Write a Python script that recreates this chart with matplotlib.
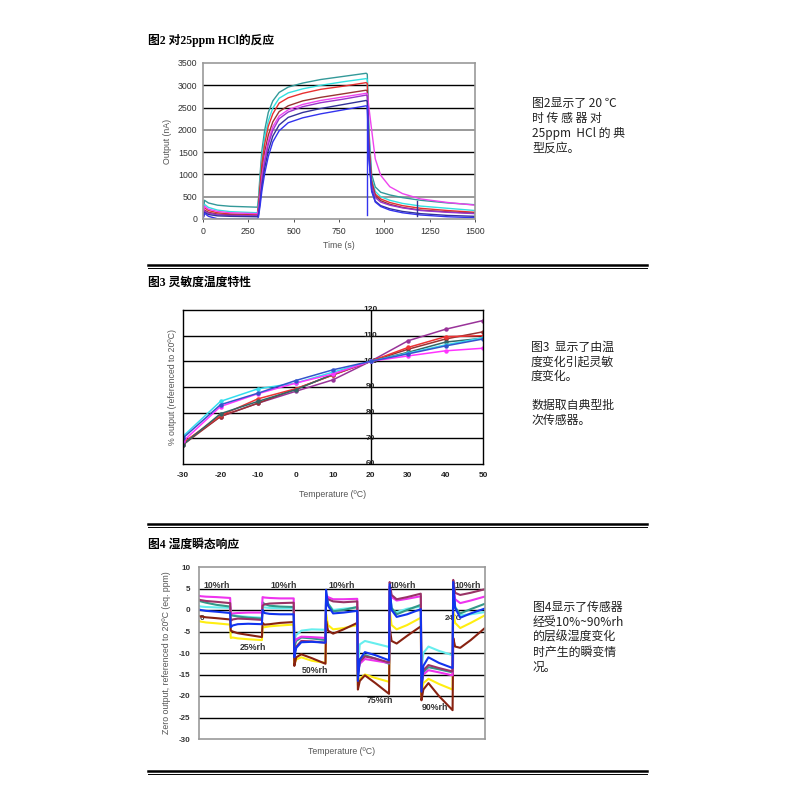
import matplotlib
matplotlib.use('Agg')
import matplotlib.pyplot as plt
from matplotlib.lines import Line2D

plt.rcParams['font.family'] = ['Liberation Sans', 'Noto Sans CJK SC', 'DejaVu Sans']

# ---------------- Chart 1 data: response to 25 ppm HCl ----------------
t1 = [0, 8, 30, 80, 150, 300, 306, 315, 325, 340, 360, 385, 420, 470, 550, 650, 775, 900,
      906, 915, 930, 950, 980, 1030, 1100, 1200, 1350, 1500]
hcl_teal = [0, 420, 360, 310, 285, 265, 460, 1010, 1540, 1990, 2390, 2650, 2840, 2960, 3050, 3130, 3200, 3270,
            3250, 2000, 1000, 720, 600, 540, 480, 420, 360, 320]
hcl_cyan = [0, 330, 260, 200, 165, 140, 380, 880, 1350, 1830, 2200, 2490, 2710, 2830, 2920, 3000, 3080, 3150,
            3130, 1800, 900, 620, 500, 420, 350, 290, 240, 190]
hcl_red = [0, 250, 190, 140, 115, 100, 310, 770, 1250, 1680, 2080, 2360, 2600, 2720, 2820, 2910, 2980, 3060,
           3040, 1700, 850, 560, 450, 370, 300, 240, 190, 150]
hcl_brown = [0, 200, 150, 110, 95, 80, 230, 640, 1070, 1500, 1880, 2180, 2410, 2540, 2650, 2730, 2810, 2890,
             2870, 1600, 800, 520, 410, 330, 260, 200, 160, 130]
hcl_magenta = [0, 290, 220, 170, 140, 120, 200, 540, 960, 1380, 1750, 2070, 2310, 2450, 2570, 2660, 2740, 2820,
               2810, 2500, 2000, 1350, 980, 725, 570, 450, 370, 310]
hcl_purple = [0, 180, 130, 95, 80, 70, 140, 470, 860, 1280, 1670, 1990, 2250, 2400, 2520, 2610, 2690, 2780,
              2760, 1500, 750, 480, 380, 310, 250, 190, 150, 120]
hcl_navy = [0, 150, 100, 70, 60, 50, 90, 390, 740, 1140, 1530, 1860, 2110, 2280, 2390, 2480, 2570, 2660,
            2640, 1400, 650, 400, 300, 230, 170, 120, 80, 60]
hcl_blue = [0, 130, 60, 5, 0, 0, 50, 300, 640, 1020, 1400, 1730, 1980, 2160, 2270, 2360, 2450, 2540,
            2520, 1350, 620, 380, 280, 200, 140, 90, 50, 30]
glitch1_t = [907, 907]
glitch1_v = [2540, 80]
glitch2_t = [1178, 1178]
glitch2_v = [60, 400]
x1_ticks = [0, 250, 500, 750, 1000, 1250, 1500]
y1_ticks = [0, 500, 1000, 1500, 2000, 2500, 3000, 3500]

# ---------------- Chart 2 data: temperature dependence ----------------
temps = [-30, -20, -10, 0, 10, 20, 30, 40, 50]
t_purple = [68.2, 78.5, 83.7, 88.3, 92.8, 100, 108.0, 112.5, 115.9]
t_brown = [67.5, 78.5, 83.7, 89.2, 94.7, 100, 104.7, 108.7, 111.5]
t_red = [68.2, 78.9, 85.4, 89.3, 94.7, 100, 105.4, 109.6, 110.0]
t_teal = [67.5, 79.6, 84.4, 88.9, 95.0, 100, 103.5, 107.5, 109.0]
t_cyan = [70.8, 84.4, 89.3, 91.5, 95.8, 100, 103.2, 106.4, 109.2]
t_magenta = [68.8, 82.4, 87.4, 91.5, 95.1, 100, 102.1, 104.1, 105.1]
t_blue = [70.1, 83.1, 87.6, 92.5, 96.7, 100, 102.9, 106.0, 108.7]
x2_ticks = [-30, -20, -10, 0, 10, 20, 30, 40, 50]
y2_ticks = [60, 70, 80, 90, 100, 110, 120]

# ---------------- Chart 3 data: humidity transients ----------------
rh_labels = ['10%rh', '25%rh', '10%rh', '50%rh', '10%rh', '75%rh', '10%rh', '90%rh', '10%rh']
seg_offsets = [0.0, 0.06, 0.22, 0.55, 0.98]
h_magenta = [3.3, 3.2, 3.1, 3.0, 2.8,
             -0.9, -0.8, -0.7, -0.6, -0.6,
             3.0, 2.9, 2.8, 2.7, 2.7,
             -7.5, -6.8, -6.2, -6.3, -6.5,
             3.5, 3.0, 2.5, 2.5, 2.6,
             -14.5, -12.5, -11.4, -11.8, -12.3,
             5.5, 3.0, 2.2, 2.6, 3.2,
             -16.5, -15.0, -14.0, -14.5, -15.2,
             6.0, 2.5, 1.6, 2.2, 3.1]
h_purple = [2.4, 2.3, 2.1, 1.9, 1.6,
            -2.5, -2.2, -2.0, -2.1, -2.3,
            1.0, 1.3, 1.5, 1.6, 1.7,
            -10.0, -8.5, -7.2, -7.3, -7.6,
            3.0, 2.5, 2.0, 1.8, 2.0,
            -15.0, -12.0, -10.8, -11.3, -12.2,
            6.5, 3.5, 2.5, 3.0, 3.8,
            -18.0, -14.0, -12.8, -13.5, -14.3,
            7.0, 4.0, 3.5, 4.0, 4.8]
h_teal = [2.2, 2.0, 1.7, 1.2, 0.8,
          -1.0, -1.3, -1.5, -1.8, -2.0,
          1.8, 1.4, 1.0, 0.8, 0.7,
          -8.5, -7.2, -6.4, -6.6, -7.0,
          3.5, 1.5, -0.3, 0.0, 0.7,
          -15.0, -11.5, -10.5, -11.3, -12.5,
          4.5, 0.5, -1.0, 0.0, 1.2,
          -17.5, -14.5, -13.3, -13.8, -14.5,
          5.0, 0.5, -0.8, 0.2, 1.4]
h_cyan = [0.9, 0.8, 0.7, 0.6, 0.5,
          -1.2, -1.2, -1.4, -1.6, -1.8,
          0.8, 0.6, 0.5, 0.4, 0.4,
          -7.0, -5.8, -4.8, -4.5, -4.6,
          4.0, 1.5, 0.0, 0.3, 0.6,
          -13.0, -8.0, -7.2, -7.8, -8.6,
          5.0, 0.0, -0.5, 0.3, 0.8,
          -14.0, -10.0, -8.5, -9.5, -10.5,
          5.5, 0.8, -1.2, -1.0, -0.5]
h_blue = [0.1, 0.0, -0.2, -0.4, -0.7,
          -4.0, -3.6, -3.3, -3.2, -3.3,
          0.0, -0.7, -0.9, -1.0, -1.0,
          -11.0, -8.8, -7.5, -7.4, -7.6,
          4.7, 1.0, -0.8, -0.6, -0.2,
          -16.5, -11.5, -9.8, -10.5, -11.7,
          6.0, 0.0, -1.6, -1.0, 0.2,
          -19.0, -13.0, -11.0, -12.3, -13.5,
          6.5, 0.5, -1.8, -0.8, 0.3]
h_brown = [-1.4, -1.5, -1.7, -1.9, -2.2,
           -4.8, -5.0, -5.4, -5.8, -6.3,
           -3.0, -3.4, -3.3, -3.0, -2.8,
           -13.0, -11.0, -10.3, -11.2, -12.5,
           -2.5, -4.8, -5.5, -4.5, -3.0,
           -18.5, -16.5, -15.2, -17.0, -19.5,
           -4.0, -7.2, -7.8, -6.0, -3.8,
           -21.0, -18.5, -17.0, -20.0, -23.3,
           -6.5, -8.5, -8.8, -7.0, -4.3]
h_yellow = [-2.6, -2.7, -2.9, -3.1, -3.4,
            -6.5, -6.4, -6.6, -6.8, -7.0,
            -4.0, -4.0, -3.8, -3.6, -3.4,
            -12.5, -11.5, -11.0, -11.8, -12.3,
            -1.0, -3.5, -4.5, -4.2, -3.5,
            -17.5, -16.0, -15.0, -15.8, -16.7,
            0.0, -3.5, -4.5, -3.5, -1.8,
            -20.0, -17.0, -16.0, -17.2, -18.5,
            -0.5, -3.0, -4.2, -3.0, -1.3]
y3_ticks = [10, 5, 0, -5, -10, -15, -20, -25, -30]

# ---------------- Side texts ----------------
text1 = ['图2显示了 20 ℃', '时 传 感 器 对', '25ppm  HCl 的 典', '型反应。']
text2 = ['图3  显示了由温', '度变化引起灵敏', '度变化。', '', '数据取自典型批', '次传感器。']
text3 = ['图4显示了传感器', '经受10%~90%rh', '的层级湿度变化', '时产生的瞬变情', '况。']

W = H = 800.0


def fx(px):
    return px / W


def fy(py):
    return 1 - py / H


def axes_px(left, top, right, bottom):
    return fig.add_axes([fx(left), fy(bottom), (right - left) / W, (bottom - top) / H])


fig = plt.figure(figsize=(8, 8), dpi=100)
fig.patch.set_facecolor('white')

title_font = ['Liberation Serif', 'Noto Sans CJK SC']
cjk = ['Noto Sans CJK SC', 'DejaVu Sans']

fig.text(fx(148), fy(40), '图2 对25ppm HCl的反应', fontsize=8.5, fontweight='bold',
         family=title_font, va='center', ha='left')
fig.text(fx(148), fy(283), '图3 灵敏度温度特性', fontsize=8.5, fontweight='bold',
         family=title_font, va='center', ha='left')
fig.text(fx(148), fy(545), '图4 湿度瞬态响应', fontsize=8.5, fontweight='bold',
         family=title_font, va='center', ha='left')

# separators (double rule)
for ythick in (265, 524, 771):
    fig.add_artist(Line2D([fx(148), fx(647)], [fy(ythick), fy(ythick)], lw=1.8, color='black'))
    fig.add_artist(Line2D([fx(148), fx(647)], [fy(ythick + 3), fy(ythick + 3)], lw=0.7, color='black'))

# side texts
for i, line in enumerate(text1):
    fig.text(fx(532), fy(103 + i * 15), line, fontsize=8.6, family=cjk, va='center', ha='left', color='#222222')
for i, line in enumerate(text2):
    fig.text(fx(531), fy(347 + i * 14.6), line, fontsize=8.6, family=cjk, va='center', ha='left', color='#222222')
for i, line in enumerate(text3):
    fig.text(fx(533), fy(607 + i * 15.2), line, fontsize=8.6, family=cjk, va='center', ha='left', color='#222222')

# ---------------- Chart 1 ----------------
ax1 = axes_px(203, 63, 475, 219)
series1 = [(hcl_teal, '#339999'), (hcl_cyan, '#33E0E0'), (hcl_red, '#E83030'), (hcl_brown, '#993333'),
           (hcl_magenta, '#EE44EE'), (hcl_purple, '#9933CC'), (hcl_navy, '#333399'), (hcl_blue, '#3333EE')]
for vals, col in series1:
    ax1.plot(t1, vals, color=col, lw=1.0)
ax1.plot(glitch1_t, glitch1_v, color='#3333EE', lw=1.0)
ax1.plot(glitch2_t, glitch2_v, color='#333399', lw=1.0)
ax1.set_xlim(0, 1500)
ax1.set_ylim(0, 3500)
ax1.set_xticks(x1_ticks)
ax1.set_yticks(y1_ticks)
for yv in y1_ticks[1:-1]:
    col = '#999999' if yv in (500, 2000) else 'black'
    ax1.axhline(yv, color=col, lw=1.0 if col == 'black' else 1.4, zorder=0)
for s in ax1.spines.values():
    s.set_color('#999999')
    s.set_linewidth(1.2)
ax1.tick_params(labelsize=6.3, length=2, colors='#333333', width=0.6)
ax1.tick_params(axis='y', length=0, pad=4)
ax1.set_ylabel('Output (nA)', fontsize=6.3, color='#555555', labelpad=4)
ax1.set_xlabel('Time (s)', fontsize=6.3, color='#555555', labelpad=4)

# ---------------- Chart 2 ----------------
ax2 = axes_px(183, 310, 483, 464)
series2 = [(t_purple, '#993399'), (t_brown, '#993333'), (t_red, '#EE3333'), (t_teal, '#336666'),
           (t_cyan, '#33DDEE'), (t_magenta, '#FF33FF'), (t_blue, '#3355CC')]
for vals, col in series2:
    ax2.plot(temps, vals, color=col, lw=1.1, marker='o', markersize=2.2)
ax2.set_xlim(-30, 50)
ax2.set_ylim(60, 120)
ax2.set_xticks(x2_ticks)
ax2.set_xticklabels([str(v) for v in x2_ticks], fontweight='bold')
ax2.set_yticks([])
for yv in y2_ticks[1:-1]:
    ax2.axhline(yv, color='black', lw=1.0, zorder=0)
ax2.axvline(20, color='black', lw=1.0, zorder=0)
for yv in y2_ticks:
    ax2.text(20, yv, str(yv), fontsize=6.0, fontweight='bold', ha='center', va='center', color='#222222',
             zorder=1)
for s in ax2.spines.values():
    s.set_color('black')
    s.set_linewidth(1.0)
ax2.tick_params(axis='x', labelsize=6.0, length=0, pad=6, colors='#222222')
ax2.set_ylabel('% output (referenced to 20ºC)', fontsize=6.3, color='#555555', labelpad=4)
ax2.set_xlabel('Temperature (ºC)', fontsize=6.3, color='#555555', labelpad=8)

# ---------------- Chart 3 ----------------
ax3 = axes_px(199, 567, 485, 739)
x3 = [k + o for k in range(len(rh_labels)) for o in seg_offsets]
series3 = [(h_yellow, '#FFEE11'), (h_brown, '#882211'), (h_cyan, '#66EEEE'), (h_teal, '#339988'),
           (h_magenta, '#EE33EE'), (h_purple, '#993366'), (h_blue, '#1133EE')]
ax3.text(0.02, -2.0, '0', fontsize=5.8, fontweight='bold', ha='left', va='center', color='#333333', zorder=1)
ax3.text(7.75, -2.0, '24ºC', fontsize=5.8, fontweight='bold', ha='left', va='center', color='#333333', zorder=1)
for vals, col in series3:
    ax3.plot(x3, vals, color=col, lw=1.5, zorder=2)
ax3.set_xlim(0, 9)
ax3.set_ylim(-30, 10)
ax3.set_xticks([])
ax3.set_yticks(y3_ticks)
ax3.set_yticklabels([str(v) for v in y3_ticks], fontweight='bold')
for yv in y3_ticks[1:-1]:
    ax3.axhline(yv, color='black', lw=1.0, zorder=0)
for s in ax3.spines.values():
    s.set_color('#999999')
    s.set_linewidth(1.2)
ax3.tick_params(axis='y', labelsize=5.8, length=0, pad=6, colors='#333333')
label_pos = [(0.55, 5.8), (1.7, -8.8), (2.65, 5.8), (3.65, -14.0), (4.5, 5.8), (5.7, -21.0),
             (6.4, 5.8), (7.42, -22.6), (8.45, 5.8)]
for lab, (lx, ly) in zip(rh_labels, label_pos):
    ax3.text(lx, ly, lab, fontsize=6.3, fontweight='bold', ha='center', va='center', color='#333333', zorder=3)
ax3.set_ylabel('Zero output, referenced to 20ºC (eq. ppm)', fontsize=6.3, color='#555555', labelpad=6)
ax3.set_xlabel('Temperature (ºC)', fontsize=6.3, color='#555555', labelpad=6)

fig.savefig('out.png', dpi=100)
